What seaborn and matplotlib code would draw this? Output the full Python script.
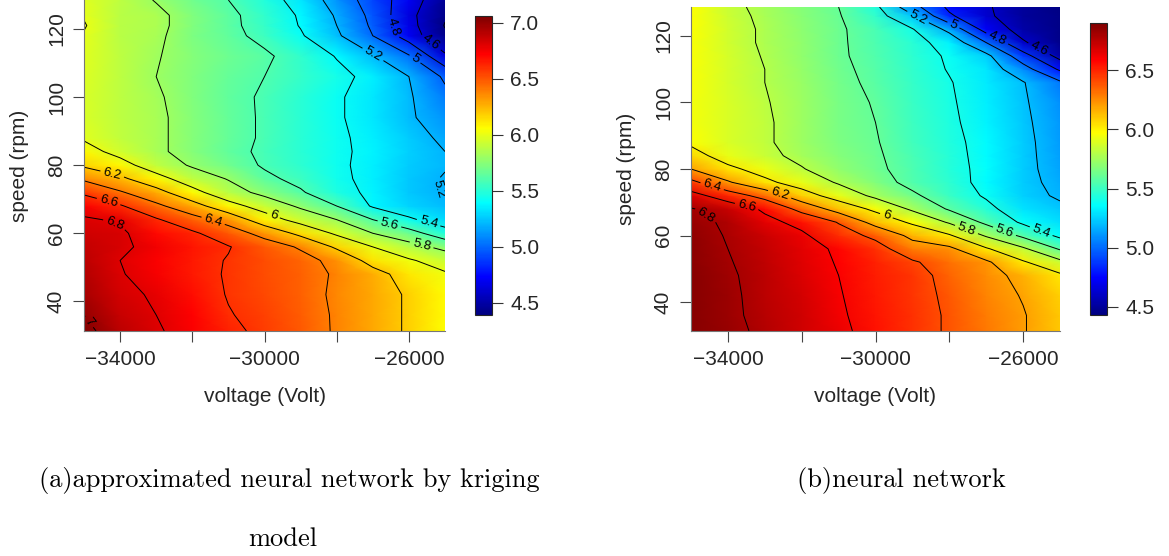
import matplotlib
matplotlib.use("Agg")
import matplotlib.pyplot as plt
import numpy as np
import seaborn as sns

sns.set_theme(style="ticks")
plt.rcParams["font.family"] = ["Liberation Sans", "DejaVu Sans"]

W, H = 1169, 556

voltage = [-35000, -34000, -33000, -32000, -31000, -30000, -29000, -28000, -27000, -26000, -25000]
speed_a = [31.3, 36, 42, 48, 52, 56, 60, 64, 68, 72, 76, 80, 84, 88, 94, 100, 106, 112, 118, 121, 124, 128.5]
speed_b = [31.3, 36, 42, 48, 52, 56, 60, 64, 68, 72, 76, 80, 84, 88, 94, 100, 106, 110, 114, 118, 122, 126, 128.7]

# panel a, one list per voltage
a_35 = [7.05, 7.0, 6.95, 6.92, 6.9, 6.88, 6.85, 6.82, 6.73, 6.57, 6.37, 6.17, 6.07, 5.98, 5.96, 5.96, 5.97, 5.98, 5.99, 6.01, 5.99, 5.98]
a_34 = [6.9, 6.87, 6.84, 6.81, 6.8, 6.83, 6.83, 6.78, 6.62, 6.42, 6.24, 6.07, 5.94, 5.9, 5.89, 5.89, 5.89, 5.89, 5.88, 5.88, 5.88, 5.89]
a_33 = [6.82, 6.8, 6.78, 6.74, 6.73, 6.75, 6.7, 6.62, 6.44, 6.27, 6.07, 5.9, 5.83, 5.83, 5.83, 5.82, 5.8, 5.81, 5.83, 5.84, 5.84, 5.79]
a_32 = [6.73, 6.72, 6.69, 6.66, 6.66, 6.67, 6.63, 6.47, 6.28, 6.06, 5.9, 5.78, 5.74, 5.74, 5.74, 5.73, 5.73, 5.74, 5.72, 5.73, 5.73, 5.69]
a_31 = [6.64, 6.61, 6.59, 6.585, 6.59, 6.61, 6.49, 6.33, 6.07, 5.88, 5.79, 5.69, 5.65, 5.66, 5.66, 5.65, 5.66, 5.68, 5.65, 5.64, 5.64, 5.6]
a_30 = [6.56, 6.55, 6.53, 6.52, 6.52, 6.49, 6.34, 6.09, 5.92, 5.75, 5.64, 5.58, 5.57, 5.58, 5.58, 5.58, 5.6, 5.63, 5.55, 5.53, 5.52, 5.48]
a_29 = [6.49, 6.48, 6.47, 6.47, 6.46, 6.38, 6.15, 5.93, 5.77, 5.62, 5.55, 5.51, 5.5, 5.5, 5.5, 5.5, 5.53, 5.52, 5.42, 5.39, 5.38, 5.33]
a_28 = [6.38, 6.38, 6.37, 6.38, 6.35, 6.17, 5.97, 5.8, 5.6, 5.47, 5.44, 5.43, 5.43, 5.43, 5.42, 5.42, 5.45, 5.39, 5.23, 5.2, 5.18, 5.12]
a_27 = [6.28, 6.28, 6.28, 6.27, 6.13, 6.0, 5.8, 5.6, 5.38, 5.36, 5.35, 5.35, 5.36, 5.35, 5.33, 5.33, 5.35, 5.22, 5.0, 4.97, 4.95, 4.91]
a_26 = [6.18, 6.18, 6.18, 6.12, 6.02, 5.87, 5.68, 5.43, 5.28, 5.25, 5.25, 5.26, 5.27, 5.26, 5.22, 5.22, 5.2, 5.02, 4.7, 4.67, 4.65, 4.7]
a_25 = [6.05, 6.06, 6.06, 6.02, 5.92, 5.75, 5.48, 5.3, 5.22, 5.19, 5.19, 5.21, 5.2, 5.17, 5.12, 5.05, 4.97, 4.63, 4.43, 4.39, 4.42, 4.45]

# panel b
b_35 = [6.88, 6.88, 6.88, 6.88, 6.87, 6.87, 6.86, 6.84, 6.81, 6.67, 6.45, 6.2, 6.07, 5.97, 5.95, 5.95, 5.96, 5.96, 5.96, 5.96, 5.97, 5.97, 5.97]
b_34 = [6.84, 6.83, 6.83, 6.82, 6.81, 6.8, 6.79, 6.78, 6.72, 6.5, 6.22, 6.04, 5.92, 5.88, 5.88, 5.88, 5.87, 5.87, 5.87, 5.86, 5.86, 5.85, 5.84]
b_33 = [6.77, 6.76, 6.75, 6.75, 6.74, 6.73, 6.71, 6.65, 6.57, 6.33, 6.04, 5.93, 5.84, 5.82, 5.82, 5.81, 5.8, 5.8, 5.79, 5.78, 5.78, 5.77, 5.76]
b_32 = [6.7, 6.7, 6.69, 6.67, 6.66, 6.65, 6.63, 6.55, 6.34, 6.08, 5.92, 5.81, 5.76, 5.74, 5.74, 5.74, 5.73, 5.72, 5.71, 5.71, 5.7, 5.69, 5.68]
b_31 = [6.63, 6.62, 6.61, 6.6, 6.59, 6.58, 6.48, 6.39, 6.12, 5.92, 5.78, 5.71, 5.68, 5.66, 5.65, 5.65, 5.64, 5.63, 5.62, 5.62, 5.62, 5.61, 5.6]
b_30 = [6.55, 6.54, 6.53, 6.52, 6.51, 6.47, 6.36, 6.13, 5.96, 5.76, 5.67, 5.63, 5.62, 5.61, 5.6, 5.59, 5.57, 5.56, 5.55, 5.54, 5.53, 5.48, 5.44]
b_29 = [6.47, 6.47, 6.46, 6.46, 6.42, 6.29, 6.15, 5.97, 5.77, 5.63, 5.55, 5.54, 5.53, 5.52, 5.51, 5.5, 5.49, 5.48, 5.47, 5.46, 5.41, 5.23, 5.07]
b_28 = [6.38, 6.38, 6.37, 6.35, 6.32, 6.24, 6.02, 5.78, 5.58, 5.5, 5.47, 5.45, 5.45, 5.44, 5.43, 5.42, 5.41, 5.39, 5.38, 5.33, 5.15, 4.83, 4.76]
b_27 = [6.3, 6.29, 6.27, 6.25, 6.23, 6.02, 5.78, 5.56, 5.45, 5.38, 5.35, 5.36, 5.35, 5.35, 5.33, 5.32, 5.31, 5.3, 5.25, 5.0, 4.72, 4.63, 4.62]
b_26 = [6.21, 6.21, 6.19, 6.16, 6.02, 5.83, 5.56, 5.37, 5.29, 5.25, 5.24, 5.24, 5.24, 5.24, 5.23, 5.22, 5.21, 5.08, 4.88, 4.62, 4.53, 4.5, 4.5]
b_25 = [6.1, 6.1, 6.08, 6.03, 5.85, 5.58, 5.36, 5.28, 5.23, 5.18, 5.16, 5.14, 5.13, 5.12, 5.11, 5.09, 5.03, 4.77, 4.53, 4.46, 4.45, 4.45, 4.44]

levels_a = [4.4, 4.6, 4.8, 5.0, 5.2, 5.4, 5.6, 5.8, 6.0, 6.2, 6.4, 6.6, 6.8, 7.0]
levels_b = [4.6, 4.8, 5.0, 5.2, 5.4, 5.6, 5.8, 6.0, 6.2, 6.4, 6.6, 6.8]
labels_a = [(-34220, 77.3), (-34320, 69.3), (-34180, 61.7), (-34750, 34.8), (-31400, 64.4), (-29730, 65.8),
            (-26550, 62.3), (-25450, 63.3), (-25650, 56.5), (-27050, 111.4), (-25900, 110.1), (-26400, 120.7),
            (-25400, 115.8), (-25080, 73)]
labels_b = [(-34420, 75.1), (-32600, 72.3), (-33490, 68.8), (-34620, 65.8), (-29710, 65.8), (-27550, 61.3),
            (-26510, 61.1), (-25510, 61.3), (-28850, 125.6), (-27900, 123), (-26730, 118.6), (-25610, 115.3)]

jet_colors = ["#00007F", "#0000FF", "#007FFF", "#00FFFF", "#7FFF7F", "#FFFF00", "#FF7F00", "#FF0000", "#7F0000"]
cmap = sns.blend_palette(jet_colors, as_cmap=True)


def px_axes(fig, x0, y0, x1, y1):
    return fig.add_axes([x0 / W, 1 - y1 / H, (x1 - x0) / W, (y1 - y0) / H])


def panel(fig, box, cbox, speed, columns, levels, label_pos, vlim, cticks):
    ax = px_axes(fig, *box)
    z = np.array(columns).T
    mesh = ax.pcolormesh(voltage, speed, z, shading="gouraud", cmap=cmap, vmin=vlim[0], vmax=vlim[1], rasterized=True)
    cs = ax.contour(voltage, speed, z, levels=levels, colors="black", linewidths=0.7)
    ax.clabel(cs, fmt="%g", fontsize=9.5, manual=label_pos, inline=True, inline_spacing=3)
    ax.set_xlim(-35000, -25000)
    ax.set_ylim(speed[0], speed[-1])
    ax.set_xticks([-34000, -32000, -30000, -28000, -26000])
    ax.set_xticklabels(["\u221234000", "", "\u221230000", "", "\u221226000"], fontsize=15)
    ax.set_yticks([40, 60, 80, 100, 120])
    ax.set_yticklabels(["40", "60", "80", "100", "120"], fontsize=15, rotation=90, va="center")
    ax.tick_params(length=8, width=0.8, color="#444444", pad=5)
    ax.tick_params(axis="x", pad=6)
    ax.set_xlabel("voltage (Volt)", fontsize=15, labelpad=13)
    ax.set_ylabel("speed (rpm)", fontsize=15, labelpad=13)
    for side in ["top", "right"]:
        ax.spines[side].set_visible(False)
    for side in ["left", "bottom"]:
        ax.spines[side].set_color("#777777")
        ax.spines[side].set_linewidth(0.8)

    cax = px_axes(fig, *cbox)
    cb = fig.colorbar(mesh, cax=cax, ticks=cticks)
    cb.ax.set_yticklabels([f"{t:.1f}" for t in cticks], fontsize=15)
    cb.ax.tick_params(length=8, width=0.8, color="#333333", pad=5)
    cb.outline.set_linewidth(0.8)
    return ax


fig = plt.figure(figsize=(W / 100, H / 100), dpi=100)

panel(fig, (84, 0, 445, 331), (475, 16, 492, 315), speed_a,
      [a_35, a_34, a_33, a_32, a_31, a_30, a_29, a_28, a_27, a_26, a_25],
      levels_a, labels_a, (4.39, 7.06), [4.5, 5.0, 5.5, 6.0, 6.5, 7.0])

panel(fig, (691, 7, 1060, 331), (1090, 23, 1107, 315), speed_b,
      [b_35, b_34, b_33, b_32, b_31, b_30, b_29, b_28, b_27, b_26, b_25],
      levels_b, labels_b, (4.43, 6.9), [4.5, 5.0, 5.5, 6.0, 6.5])

fig.text(289 / W, 1 - 481 / H, "(a)approximated neural network by kriging", family="cmr10", fontsize=19, ha="center", va="center", color="black")
fig.text(283 / W, 1 - 539 / H, "model", family="cmr10", fontsize=19, ha="center", va="center", color="black")
fig.text(901 / W, 1 - 481 / H, "(b)neural network", family="cmr10", fontsize=19, ha="center", va="center", color="black")

fig.savefig("out.png", dpi=100)
